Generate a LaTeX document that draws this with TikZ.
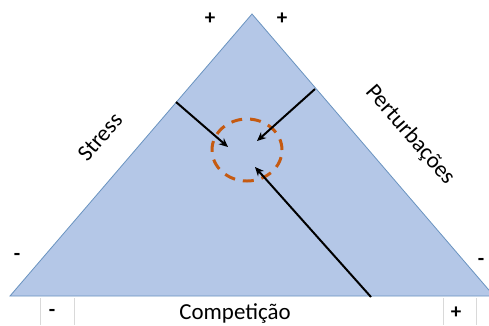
\documentclass[tikz,border=0pt]{standalone}
\usepackage{fontspec}
\setmainfont{Carlito}
\usetikzlibrary{arrows.meta,shapes.geometric}
\definecolor{triblue}{HTML}{B4C7E7}
\definecolor{triedge}{HTML}{6A93C0}
\definecolor{ringorange}{HTML}{C55A11}
\tikzset{
  lbl/.style={font=\fontsize{23}{25}\selectfont, inner sep=0pt},
  sgn/.style={font=\fontsize{21}{23}\selectfont\bfseries, inner sep=0pt},
  pointer/.style={draw=black, line width=2pt, -{Stealth[length=9pt,width=8pt]}},
  cellline/.style={draw=black!15, line width=0.8pt}
}
\begin{document}
\begin{tikzpicture}[x=1bp,y=-1bp]
\useasboundingbox (0,0) rectangle (489,325);
\fill[white] (0,0) rectangle (489,325);
% triangle
\coordinate (apex) at (252,14);
\coordinate (bl) at (10,296);
\coordinate (br) at (494,296);
\filldraw[fill=triblue, draw=triedge, line width=0.8pt] (bl) -- (apex) -- (br) -- cycle;
% ring
\node[draw=ringorange, line width=3pt, dash pattern=on 11pt off 8pt, ellipse, minimum width=70bp, minimum height=62bp, inner sep=0pt] (ring) at (247,150) {};
% arrows
\coordinate (s0) at (176,102); \coordinate (s1) at (228,147);
\coordinate (p0) at (315,89); \coordinate (p1) at (257,141);
\coordinate (c0) at (371,297); \coordinate (c1) at (255,167);
\draw[pointer] (s0) -- (s1);
\draw[pointer] (p0) -- (p1);
\draw[pointer] (c0) -- (c1);
% labels
\node[lbl, rotate=49] (stress) at (100,137) {Stress};
\node[lbl, rotate=-49] (pert) at (410,135) {Perturbações};
\node[lbl] (comp) at (235,313) {Competição};
% signs
\node[sgn] (pl1) at (210,19) {+};
\node[sgn] (pl2) at (282,19) {+};
\node[sgn] (mi1) at (17,257) {-};
\node[sgn] (mi2) at (481,262) {-};
\node[sgn] (mi3) at (52,313) {-};
\node[sgn] (pl3) at (456,313) {+};
% table cell lines
\draw[cellline] (40,298) -- (40,325);
\draw[cellline] (74,298) -- (74,325);
\draw[cellline] (443,298) -- (443,325);
\draw[cellline] (476,298) -- (476,325);
\end{tikzpicture}
\end{document}
